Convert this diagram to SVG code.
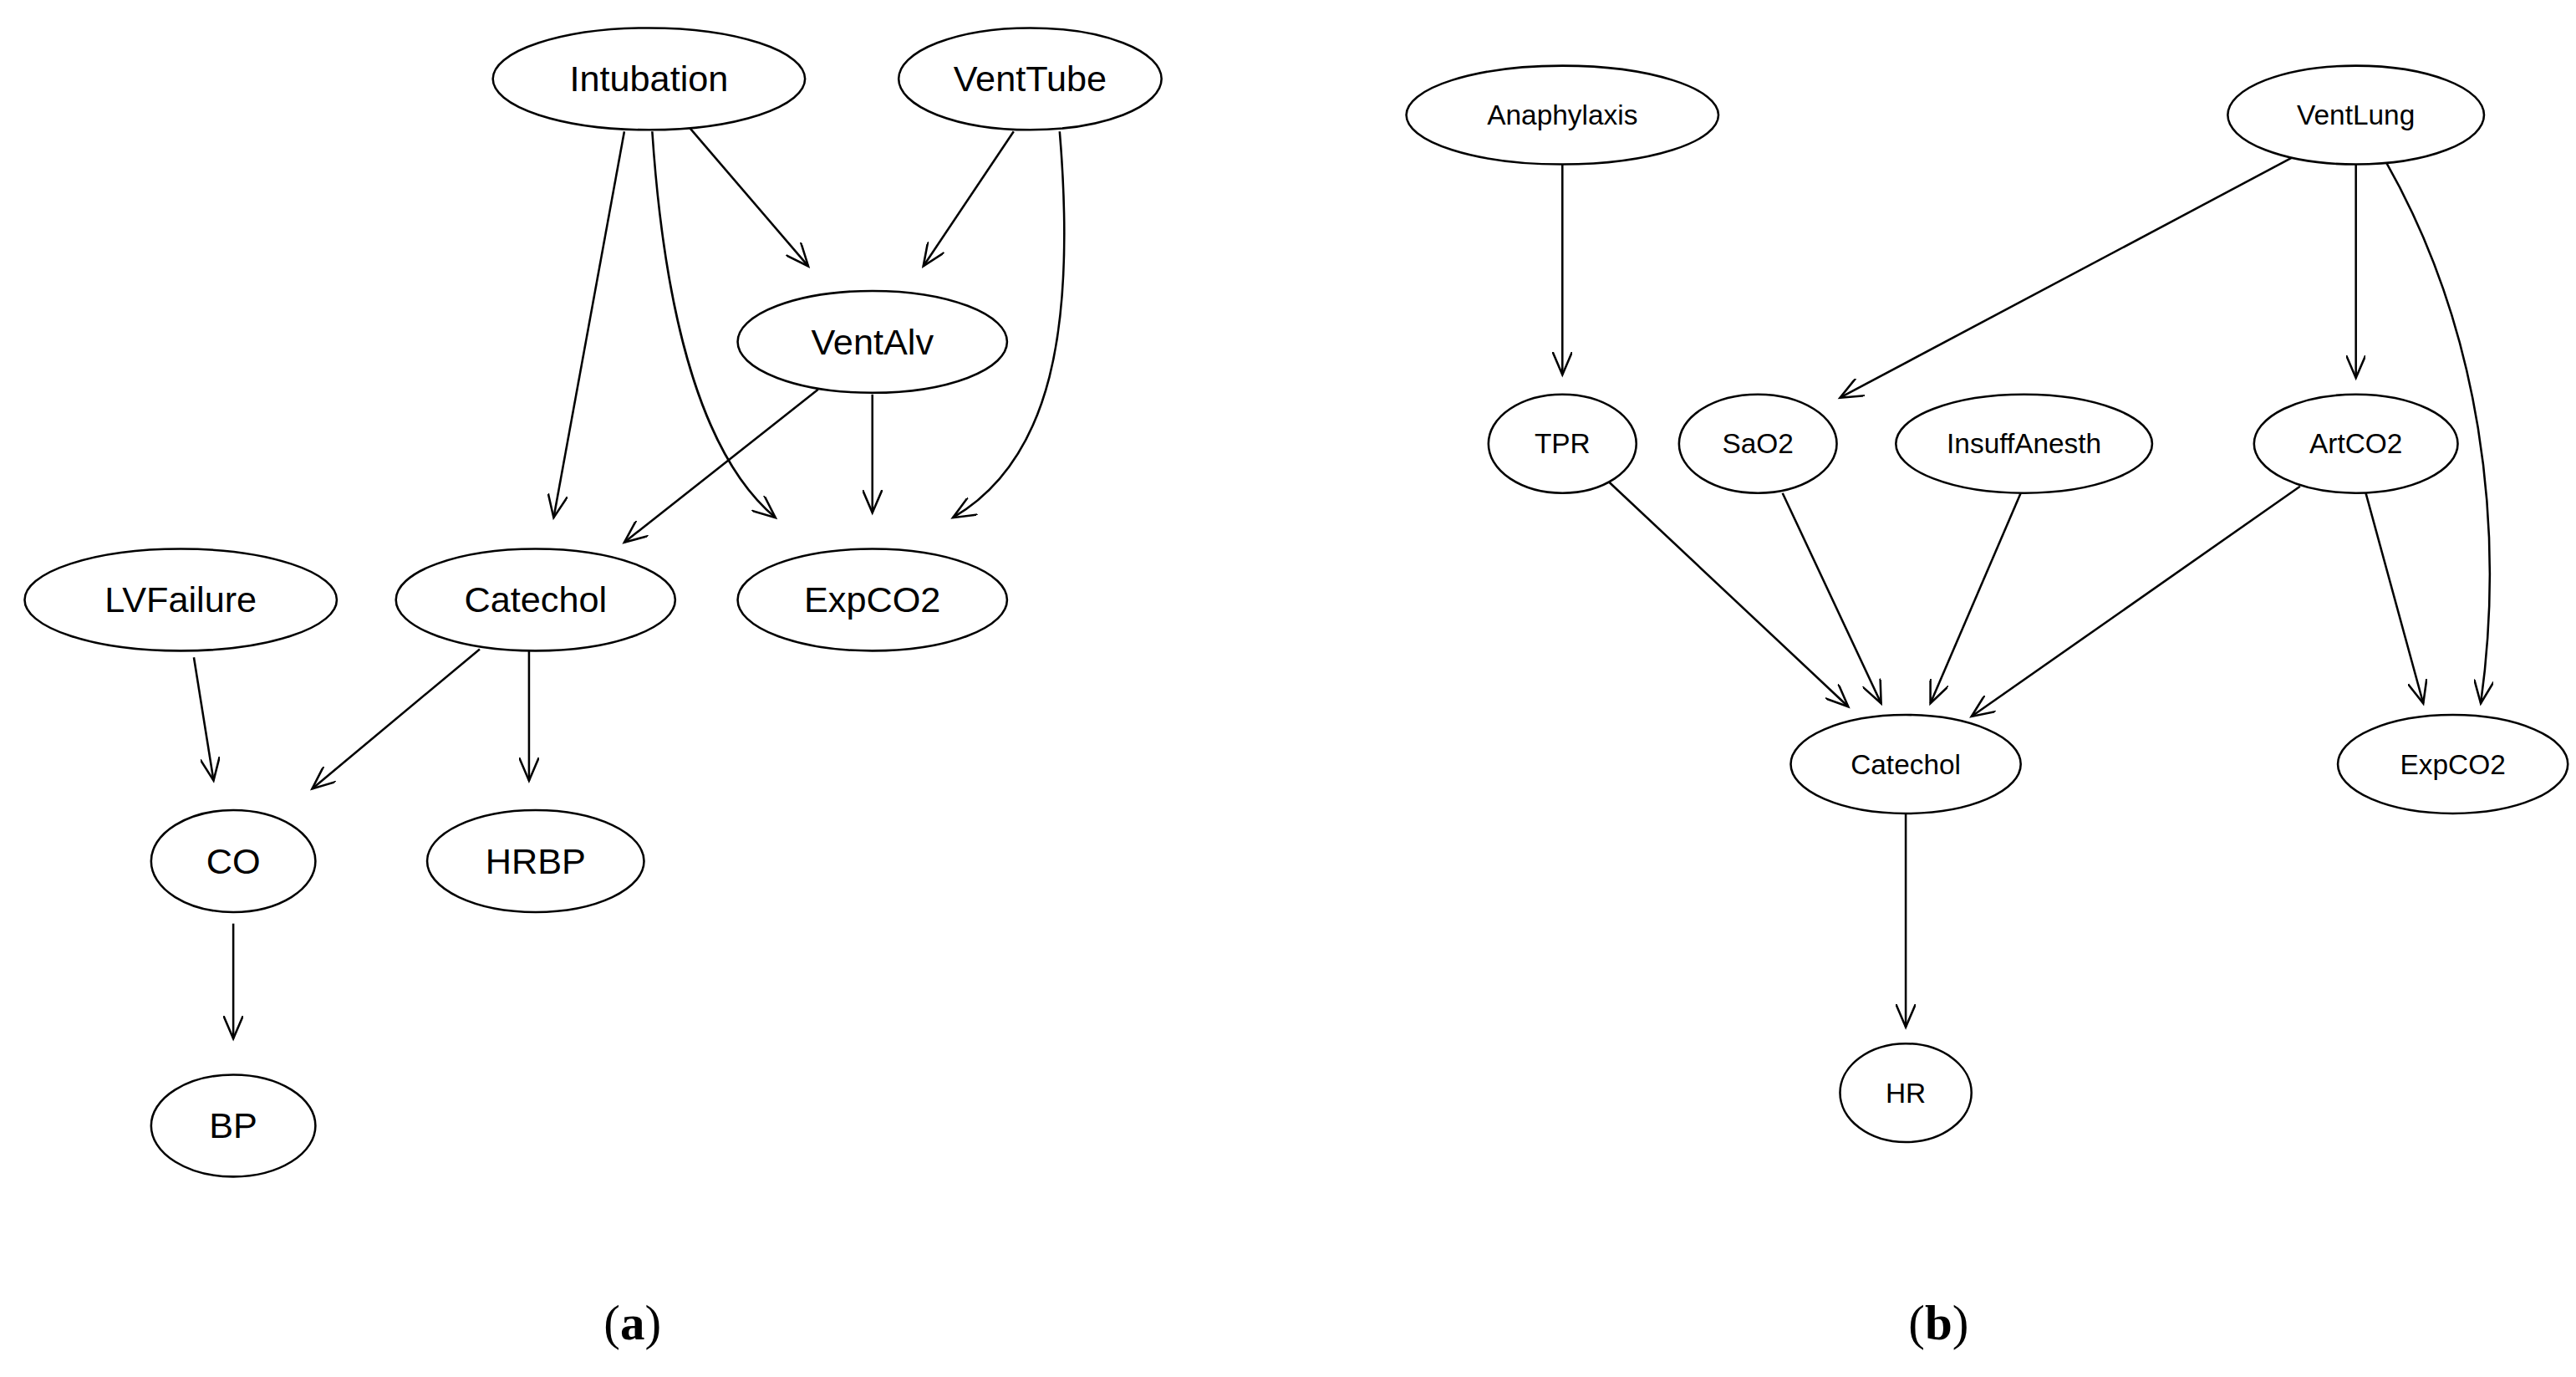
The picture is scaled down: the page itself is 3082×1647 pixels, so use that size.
<svg xmlns="http://www.w3.org/2000/svg" width="3082" height="1647" viewBox="0 0 3082 1647">
<style>
ellipse{fill:#fff;stroke:#000;stroke-width:1.3}
.e path,.e line{fill:none;stroke:#000;stroke-width:1.3}
.ta{font-family:"Liberation Sans",Arial,sans-serif;font-size:22px;text-anchor:middle;dominant-baseline:central}
.tb{font-family:"Liberation Sans",Arial,sans-serif;font-size:17px;text-anchor:middle;dominant-baseline:central}
.cap{font-family:"Liberation Serif","Times New Roman",serif;font-size:30px;text-anchor:middle}
</style>
<defs>
<marker id="ar" markerWidth="16" markerHeight="12" refX="14" refY="6" orient="auto" markerUnits="userSpaceOnUse">
<path d="M0,0 L14,6 L0,12" fill="none" stroke="#000" stroke-width="1.3"/>
</marker>
</defs>
<rect width="3082" height="1647" fill="#fff"/>
<g transform="scale(1.9656)">
<g id="connectors" class="e" marker-end="url(#ar)">
<line x1="420" y1="78" x2="492" y2="162" marker-end="url(#ar)"/>
<line x1="617" y1="80" x2="562" y2="162" marker-end="url(#ar)"/>
<line x1="380" y1="80" x2="337" y2="315" marker-end="url(#ar)"/>
<path d="M397,80 C405,200 430,280 472,315" marker-end="url(#ar)"/>
<path d="M645,80 C655,200 640,280 580,315" marker-end="url(#ar)"/>
<line x1="498" y1="237" x2="380" y2="330" marker-end="url(#ar)"/>
<line x1="531" y1="240" x2="531" y2="312" marker-end="url(#ar)"/>
<line x1="118" y1="400" x2="130" y2="475" marker-end="url(#ar)"/>
<line x1="292" y1="395" x2="190" y2="480" marker-end="url(#ar)"/>
<line x1="322" y1="395" x2="322" y2="475" marker-end="url(#ar)"/>
<line x1="142" y1="562" x2="142" y2="632" marker-end="url(#ar)"/>
<line x1="951" y1="100" x2="951" y2="228" marker-end="url(#ar)"/>
<line x1="1395" y1="96" x2="1120" y2="242" marker-end="url(#ar)"/>
<line x1="1434" y1="100" x2="1434" y2="230" marker-end="url(#ar)"/>
<path d="M1452,98 C1510,200 1525,320 1510,428" marker-end="url(#ar)"/>
<line x1="978" y1="292" x2="1125" y2="430" marker-end="url(#ar)"/>
<line x1="1085" y1="300" x2="1145" y2="428" marker-end="url(#ar)"/>
<line x1="1230" y1="300" x2="1175" y2="428" marker-end="url(#ar)"/>
<line x1="1400" y1="296" x2="1200" y2="436" marker-end="url(#ar)"/>
<line x1="1440" y1="300" x2="1475" y2="428" marker-end="url(#ar)"/>
<line x1="1160" y1="495" x2="1160" y2="625" marker-end="url(#ar)"/>
</g>
<g id="a_Intubation"><ellipse cx="395" cy="48" rx="95" ry="31"/><text class="ta" x="395" y="48">Intubation</text></g>
<g id="a_VentTube"><ellipse cx="627" cy="48" rx="80" ry="31"/><text class="ta" x="627" y="48">VentTube</text></g>
<g id="a_VentAlv"><ellipse cx="531" cy="208" rx="82" ry="31"/><text class="ta" x="531" y="208">VentAlv</text></g>
<g id="a_LVFailure"><ellipse cx="110" cy="365" rx="95" ry="31"/><text class="ta" x="110" y="365">LVFailure</text></g>
<g id="a_Catechol"><ellipse cx="326" cy="365" rx="85" ry="31"/><text class="ta" x="326" y="365">Catechol</text></g>
<g id="a_ExpCO2"><ellipse cx="531" cy="365" rx="82" ry="31"/><text class="ta" x="531" y="365">ExpCO2</text></g>
<g id="a_CO"><ellipse cx="142" cy="524" rx="50" ry="31"/><text class="ta" x="142" y="524">CO</text></g>
<g id="a_HRBP"><ellipse cx="326" cy="524" rx="66" ry="31"/><text class="ta" x="326" y="524">HRBP</text></g>
<g id="a_BP"><ellipse cx="142" cy="685" rx="50" ry="31"/><text class="ta" x="142" y="685">BP</text></g>
<g id="b_Anaphylaxis"><ellipse cx="951" cy="70" rx="95" ry="30"/><text class="tb" x="951" y="70">Anaphylaxis</text></g>
<g id="b_VentLung"><ellipse cx="1434" cy="70" rx="78" ry="30"/><text class="tb" x="1434" y="70">VentLung</text></g>
<g id="b_TPR"><ellipse cx="951" cy="270" rx="45" ry="30"/><text class="tb" x="951" y="270">TPR</text></g>
<g id="b_SaO2"><ellipse cx="1070" cy="270" rx="48" ry="30"/><text class="tb" x="1070" y="270">SaO2</text></g>
<g id="b_InsuffAnesth"><ellipse cx="1232" cy="270" rx="78" ry="30"/><text class="tb" x="1232" y="270">InsuffAnesth</text></g>
<g id="b_ArtCO2"><ellipse cx="1434" cy="270" rx="62" ry="30"/><text class="tb" x="1434" y="270">ArtCO2</text></g>
<g id="b_Catechol"><ellipse cx="1160" cy="465" rx="70" ry="30"/><text class="tb" x="1160" y="465">Catechol</text></g>
<g id="b_ExpCO2"><ellipse cx="1493" cy="465" rx="70" ry="30"/><text class="tb" x="1493" y="465">ExpCO2</text></g>
<g id="b_HR"><ellipse cx="1160" cy="665" rx="40" ry="30"/><text class="tb" x="1160" y="665">HR</text></g>
<text class="cap" x="385" y="815">(<tspan font-weight="bold">a</tspan>)</text>
<text class="cap" x="1180" y="815">(<tspan font-weight="bold">b</tspan>)</text>
</g>
</svg>
